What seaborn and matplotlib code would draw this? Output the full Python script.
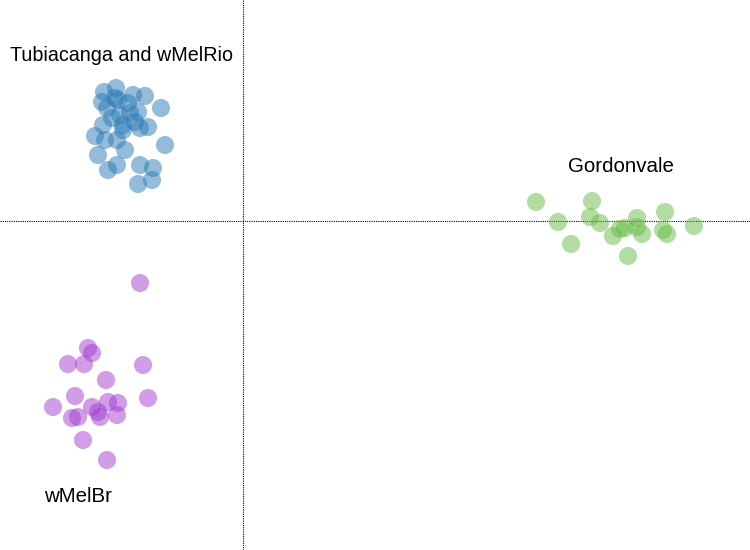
import matplotlib
matplotlib.use("Agg")
import matplotlib.pyplot as plt
import seaborn as sns
import pandas as pd

# PCA-like coordinates
tub_x = [-1.27, -1.39, -1.41, -1.28, -1.25, -1.10, -0.98, -0.82, -1.36, -1.23, -1.13, -1.05,
         -1.40, -1.20, -1.08, -0.95, -1.03, -1.20, -1.31, -1.48, -1.38, -1.26, -1.18, -0.78,
         -1.45, -1.26, -1.35, -1.03, -0.90, -1.05, -0.91, -1.15]
tub_y = [1.33, 1.29, 1.19, 1.23, 1.21, 1.26, 1.25, 1.13, 1.13, 1.06, 1.08, 1.09,
         0.96, 0.96, 0.99, 0.94, 0.93, 0.91, 1.03, 0.85, 0.81, 0.81, 0.71, 0.76,
         0.66, 0.56, 0.51, 0.56, 0.53, 0.37, 0.41, 1.18]
gor_x = [2.93, 3.49, 3.15, 3.47, 3.57, 3.28, 3.70, 3.77, 3.82, 3.94, 3.94, 3.99, 4.22,
         4.20, 4.24, 4.51, 3.85]
gor_y = [0.19, 0.20, -0.01, 0.04, -0.02, -0.23, -0.15, -0.08, -0.07, 0.03, -0.06, -0.13,
         0.09, -0.09, -0.13, -0.05, -0.35]
br_x = [-1.03, -1.55, -1.51, -1.75, -1.59, -1.00, -1.37, -1.68, -1.90, -1.51, -1.45, -1.43,
        -1.35, -1.25, -1.26, -1.71, -1.65, -0.95, -1.60, -1.36]
br_y = [-0.62, -1.27, -1.32, -1.43, -1.43, -1.44, -1.59, -1.75, -1.86, -1.86, -1.91, -1.96,
        -1.81, -1.82, -1.94, -1.97, -1.96, -1.77, -2.19, -2.39]

groups = ["Tubiacanga and wMelRio", "Gordonvale", "wMelBr"]
colors = ["#2a7ab5", "#66bb44", "#a23ccf"]

df = pd.DataFrame({
    "PC1": tub_x + gor_x + br_x,
    "PC2": tub_y + gor_y + br_y,
    "group": [groups[0]] * len(tub_x) + [groups[1]] * len(gor_x) + [groups[2]] * len(br_x),
})

sns.set_style("white")
plt.rcParams["font.family"] = ["Liberation Sans", "DejaVu Sans"]

fig = plt.figure(figsize=(7.5, 5.5), dpi=100)
ax = fig.add_axes([0, 0, 1, 1])
sns.scatterplot(data=df, x="PC1", y="PC2", hue="group", palette=dict(zip(groups, colors)),
                s=170, alpha=0.5, edgecolor="none", legend=False, ax=ax, zorder=3)
ax.axhline(0, color="black", linestyle=(0, (1, 1)), linewidth=0.8, zorder=1)
ax.axvline(0, color="black", linestyle=(0, (1, 1)), linewidth=0.8, zorder=1)
ax.set_xlim(-2.43, 5.07)
ax.set_ylim(-3.29, 2.21)
ax.axis("off")

ax.text(-2.33, 1.65, groups[0], fontsize=14.2, ha="left", va="center", color="black")
ax.text(3.78, 0.54, groups[1], fontsize=14.8, ha="center", va="center", color="black")
ax.text(-1.65, -2.76, groups[2], fontsize=14.8, ha="center", va="center", color="black")

fig.savefig("out.png", dpi=100)
